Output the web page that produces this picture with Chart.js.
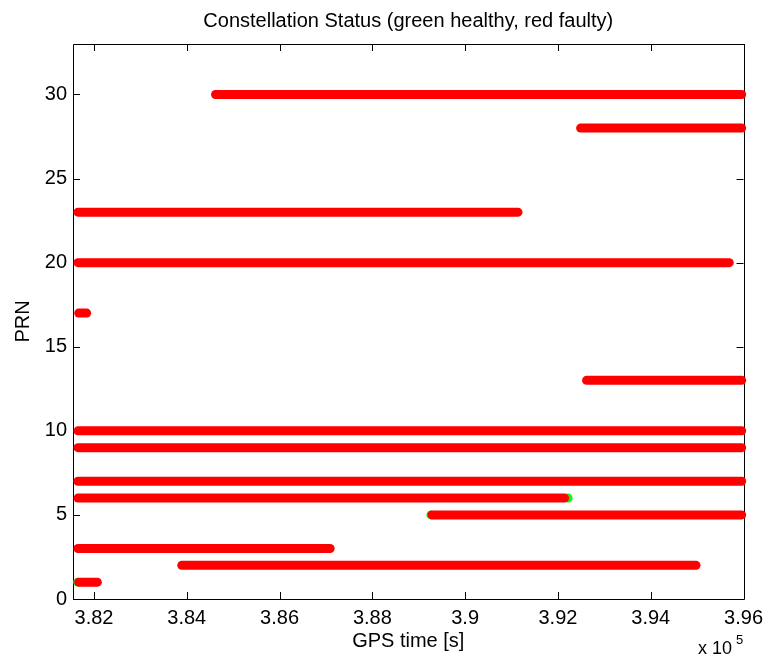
<!DOCTYPE html>
<html>
<head>
<meta charset="utf-8">
<script src="https://cdn.jsdelivr.net/npm/chart.js@4"></script>
<style>
  html, body { margin: 0; padding: 0; background: #fff; }
  #wrap { width: 770px; height: 664px; }
</style>
</head>
<body>
<div id="wrap"><canvas id="status-chart" width="770" height="664"></canvas></div>
<script>
// visibility spans per satellite (GPS time in seconds)
const prns       = [30, 28, 23, 20, 17, 13, 10, 9, 7, 6, 5, 3, 2, 1];
const startTimes = [384620, 392488, 381655, 381655, 381671, 392617, 381655, 381655, 381655, 381655, 389283, 381655, 383892, 381671];
const endTimes   = [395960, 395960, 391139, 395692, 381843, 395960, 395960, 395960, 395960, 392144, 395960, 387090, 394976, 382073];

// epochs where a satellite was flagged healthy
const healthyPrns  = [1, 5, 6];
const healthyTimes = [381649, 389262, 392219];

const xTicks = [382000, 384000, 386000, 388000, 390000, 392000, 394000, 396000];
const xTickLabels = ['3.82', '3.84', '3.86', '3.88', '3.9', '3.92', '3.94', '3.96'];
const yTicks = [0, 5, 10, 15, 20, 25, 30];

const FONT = '"Liberation Sans", Arial, Helvetica, sans-serif';

const datasets = prns.map((prn, i) => ({
    data: [{ x: startTimes[i], y: prn }, { x: endTimes[i], y: prn }],
    borderColor: '#ff0000',
    borderWidth: 9,
    borderCapStyle: 'round',
    pointRadius: 0,
    clip: 8,
    order: 0
}));
datasets.push({
    type: 'scatter',
    data: healthyTimes.map((t, i) => ({ x: t, y: healthyPrns[i] })),
    backgroundColor: '#00ff00',
    borderWidth: 0,
    pointRadius: 4.5,
    clip: 8,
    order: 1
});

// box around the axes with inward ticks on all four sides (drawn under the data)
const matlabAxes = {
    id: 'matlabAxes',
    beforeDatasetsDraw(chart) {
        const { ctx, chartArea: a, scales: { x, y } } = chart;
        const len = 7;
        ctx.save();
        ctx.strokeStyle = '#000';
        ctx.lineWidth = 1;
        ctx.beginPath();
        ctx.rect(Math.round(a.left) + 0.5, Math.round(a.top) + 0.5,
                 Math.round(a.right - a.left), Math.round(a.bottom - a.top));
        x.ticks.forEach(t => {
            const px = Math.round(x.getPixelForValue(t.value)) + 0.5;
            ctx.moveTo(px, a.bottom); ctx.lineTo(px, a.bottom - len);
            ctx.moveTo(px, a.top); ctx.lineTo(px, a.top + len);
        });
        y.ticks.forEach(t => {
            const py = Math.round(y.getPixelForValue(t.value)) + 0.5;
            ctx.moveTo(a.left, py); ctx.lineTo(a.left + len, py);
            ctx.moveTo(a.right, py); ctx.lineTo(a.right - len, py);
        });
        ctx.stroke();
        ctx.restore();
    },
    // title, axis labels and the x-axis exponent
    afterDraw(chart) {
        const { ctx, chartArea: a } = chart;
        ctx.save();
        ctx.fillStyle = '#000';
        ctx.textAlign = 'center';
        ctx.textBaseline = 'alphabetic';
        ctx.font = '20px ' + FONT;
        ctx.fillText('Constellation Status (green healthy, red faulty)', (a.left + a.right) / 2, 27);
        ctx.fillText('GPS time [s]', (a.left + a.right) / 2, 647);

        ctx.save();
        ctx.translate(29, (a.top + a.bottom) / 2);
        ctx.rotate(-Math.PI / 2);
        ctx.fillText('PRN', 0, 0);
        ctx.restore();

        ctx.textAlign = 'left';
        ctx.font = '18px ' + FONT;
        ctx.fillText('x 10', 698, 654);
        ctx.font = '13px ' + FONT;
        ctx.fillText('5', 736, 644);
        ctx.restore();
    }
};

new Chart(document.getElementById('status-chart'), {
    type: 'line',
    data: { datasets },
    options: {
        responsive: false,
        animation: false,
        events: [],
        layout: { padding: { left: 0, top: 44, right: 24, bottom: 0 } },
        plugins: { legend: { display: false }, title: { display: false }, tooltip: { enabled: false } },
        scales: {
            x: {
                type: 'linear',
                min: 381548,
                max: 396000,
                afterFit: s => { s.height = 65; },
                afterBuildTicks: s => { s.ticks = xTicks.map(v => ({ value: v })); },
                grid: { display: false, drawTicks: false, tickLength: 0 },
                border: { display: false },
                ticks: {
                    padding: 7,
                    color: '#000',
                    font: { family: FONT, size: 20 },
                    maxRotation: 0,
                    callback: (v) => xTickLabels[xTicks.indexOf(v)]
                }
            },
            y: {
                min: 0,
                max: 33,
                afterFit: s => { s.width = 73; },
                afterBuildTicks: s => { s.ticks = yTicks.map(v => ({ value: v })); },
                grid: { display: false, drawTicks: false, tickLength: 0 },
                border: { display: false },
                ticks: {
                    padding: 6,
                    color: '#000',
                    font: { family: FONT, size: 20 }
                }
            }
        }
    },
    plugins: [matlabAxes]
});
</script>
</body>
</html>
